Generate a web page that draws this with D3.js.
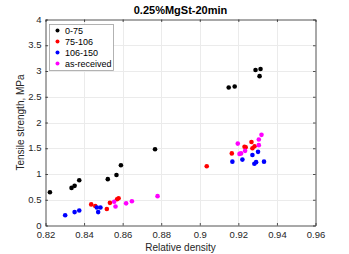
<!DOCTYPE html>
<html>
<head>
<meta charset="utf-8">
<script src="https://cdn.jsdelivr.net/npm/d3@7"></script>
<style>
  body { margin: 0; background: #fff; }
  svg { display: block; font-family: "Liberation Sans", Arial, Helvetica, sans-serif; }
</style>
</head>
<body>
<svg id="chart" width="349" height="254"></svg>
<script>
// series: [relative density, tensile strength]
var fine = [[0.8223, 0.645], [0.8335, 0.73], [0.8351, 0.77], [0.8375, 0.88], [0.8523, 0.90],
    [0.8568, 0.98], [0.8591, 1.17], [0.8768, 1.48], [0.9150, 2.68], [0.9181, 2.70],
    [0.9289, 3.02], [0.9315, 3.04], [0.9310, 2.90]];
var mid = [[0.8437, 0.41], [0.8458, 0.38], [0.8518, 0.32], [0.8534, 0.44], [0.8571, 0.51],
    [0.8579, 0.53], [0.9036, 1.15], [0.9166, 1.40], [0.9232, 1.53], [0.9238, 1.52],
    [0.9268, 1.62], [0.9273, 1.50], [0.9284, 1.54]];
var coarse = [[0.8302, 0.20], [0.8351, 0.26], [0.8375, 0.29], [0.8466, 0.35], [0.8485, 0.35],
    [0.8473, 0.26], [0.9169, 1.24], [0.9221, 1.28], [0.9273, 1.37], [0.9302, 1.43],
    [0.9283, 1.20], [0.9292, 1.23], [0.9333, 1.24]];
var received = [[0.8556, 0.46], [0.8563, 0.37], [0.8618, 0.43], [0.8648, 0.47], [0.8781, 0.57],
    [0.9197, 1.59], [0.9206, 1.39], [0.9214, 1.40], [0.9235, 1.45], [0.9306, 1.56],
    [0.9306, 1.67], [0.9320, 1.76]];
var seriesNames = ['0-75', '75-106', '106-150', 'as-received'];
var seriesColors = ['#000000', '#ff0000', '#0000ff', '#ff00ff'];
var xTicks = [0.82, 0.84, 0.86, 0.88, 0.90, 0.92, 0.94, 0.96];
var yTicks = [0, 0.5, 1, 1.5, 2, 2.5, 3, 3.5, 4];

var series = [fine, mid, coarse, received];

var svg = d3.select('#chart');
var plotLeft = 45.5, plotRight = 315.5, plotTop = 19.5, plotBottom = 225.5;

var x = d3.scaleLinear().domain([0.82, 0.96]).range([plotLeft, plotRight]);
var y = d3.scaleLinear().domain([0, 4]).range([plotBottom, plotTop]);

// grid
svg.append('g').selectAll('line')
    .data(xTicks.slice(1, -1))
    .enter().append('line')
    .attr('x1', function (d) { return Math.round(x(d)) + 0.5; })
    .attr('x2', function (d) { return Math.round(x(d)) + 0.5; })
    .attr('y1', plotTop).attr('y2', plotBottom)
    .style('stroke', '#ebebeb').style('stroke-width', 1);
svg.append('g').selectAll('line')
    .data(yTicks.slice(1, -1))
    .enter().append('line')
    .attr('y1', function (d) { return Math.round(y(d)) + 0.5; })
    .attr('y2', function (d) { return Math.round(y(d)) + 0.5; })
    .attr('x1', plotLeft).attr('x2', plotRight)
    .style('stroke', '#ebebeb').style('stroke-width', 1);

// axes
var fmt = function (d) { return String(+d.toFixed(2)); };
var xAxis = svg.append('g')
    .attr('transform', 'translate(0,' + plotBottom + ')')
    .call(d3.axisBottom(x).tickValues(xTicks).tickFormat(fmt).tickSizeInner(-2.5).tickSizeOuter(0).tickPadding(6));
var yAxis = svg.append('g')
    .attr('transform', 'translate(' + plotLeft + ',0)')
    .call(d3.axisLeft(y).tickValues(yTicks).tickFormat(fmt).tickSizeInner(-2.5).tickSizeOuter(0).tickPadding(4));
svg.append('g')
    .attr('transform', 'translate(0,' + plotTop + ')')
    .call(d3.axisTop(x).tickValues(xTicks).tickFormat('').tickSizeInner(-2.5).tickSizeOuter(0));
svg.append('g')
    .attr('transform', 'translate(' + plotRight + ',0)')
    .call(d3.axisRight(y).tickValues(yTicks).tickFormat('').tickSizeInner(-2.5).tickSizeOuter(0));

svg.selectAll('.domain, .tick line').style('stroke', '#262626').style('stroke-width', 0.8);
svg.selectAll('.tick text').style('fill', '#262626').style('font-size', '9.5px');
xAxis.selectAll('.tick text').attr('dy', '0.71em');
yAxis.selectAll('.tick text').attr('dy', '0.28em');

// points
series.forEach(function (data, i) {
    svg.append('g').selectAll('circle')
        .data(data)
        .enter().append('circle')
        .attr('cx', function (d) { return x(d[0]); })
        .attr('cy', function (d) { return y(d[1]); })
        .attr('r', 2.3)
        .style('fill', seriesColors[i]);
});

// labels
svg.append('text')
    .attr('x', (plotLeft + plotRight) / 2).attr('y', 14)
    .attr('text-anchor', 'middle')
    .style('font-size', '11px').style('font-weight', 'bold').style('fill', '#000')
    .text('0.25%MgSt-20min');
svg.append('text')
    .attr('x', (plotLeft + plotRight) / 2).attr('y', 251)
    .attr('text-anchor', 'middle')
    .style('font-size', '10px').style('fill', '#262626')
    .text('Relative density');
svg.append('text')
    .attr('transform', 'translate(24,' + (plotTop + plotBottom) / 2 + ') rotate(-90)')
    .attr('text-anchor', 'middle')
    .style('font-size', '10px').style('fill', '#262626')
    .text('Tensile strength, MPa');

// legend
var legend = svg.append('g');
legend.append('rect')
    .attr('x', 49.5).attr('y', 24.5).attr('width', 64).attr('height', 46)
    .style('fill', '#fff').style('stroke', '#a0a0a0').style('stroke-width', 0.8);
seriesNames.forEach(function (name, i) {
    var ly = 30.5 + i * 11;
    legend.append('circle')
        .attr('cx', 57.5).attr('cy', ly).attr('r', 2)
        .style('fill', seriesColors[i]);
    legend.append('text')
        .attr('x', 65).attr('y', ly).attr('dy', '0.35em')
        .style('font-size', '9px').style('fill', '#000')
        .text(name);
});
</script>
</body>
</html>
